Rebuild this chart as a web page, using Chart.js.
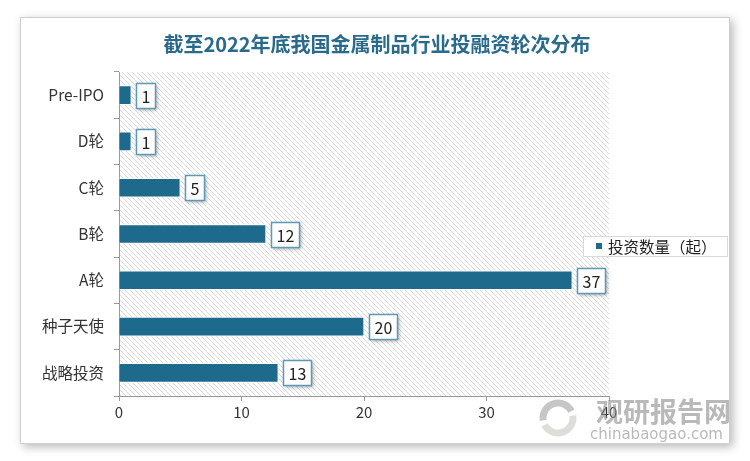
<!DOCTYPE html>
<html><head><meta charset="utf-8">
<script src="https://cdn.jsdelivr.net/npm/chart.js@4"></script>
<style>
html,body{margin:0;padding:0;background:#fff;}
#card{position:absolute;left:20px;top:17px;width:708px;height:425px;border:1px solid #cfcfcf;background:#fff;box-shadow:3px 3px 9px rgba(0,0,0,0.28);}
#wrap{position:absolute;left:0;top:0;width:750px;height:461px;}
</style></head><body>
<div id="card"></div>
<div id="wrap"><canvas id="c" width="750" height="461"></canvas></div>
<script>
const titleText = '截至2022年底我国金属制品行业投融资轮次分布';
const categories = ['Pre-IPO','D轮','C轮','B轮','A轮','种子天使','战略投资'];
const seriesName = '投资数量（起）';
const values = [1,1,5,12,37,20,13];
const xTicks = [0,10,20,30,40];

const BAR = '#1d6a8d';
const FONT = '"Noto Sans CJK SC","Noto Sans",sans-serif';

function hatch(){
  const p=document.createElement('canvas');p.width=5;p.height=5;
  const g=p.getContext('2d');
  g.fillStyle='#ffffff';g.fillRect(0,0,5,5);
  g.strokeStyle='#dadada';g.lineWidth=1;
  g.beginPath();g.moveTo(-1,-1);g.lineTo(6,6);g.moveTo(-1,4);g.lineTo(1,6);g.moveTo(4,-1);g.lineTo(6,1);g.stroke();
  return p;
}

const deco = {
  id:'deco',
  beforeDraw(chart){
    const ctx=chart.ctx, a=chart.chartArea;
    ctx.save();
    ctx.fillStyle=ctx.createPattern(hatch(),'repeat');
    ctx.fillRect(a.left,a.top,a.right-a.left,a.bottom-a.top);
    ctx.restore();
    ctx.save();
    ctx.font='bold 20px "Noto Sans CJK SC",serif';
    ctx.fillStyle='#2a6b8c';
    ctx.textAlign='center';ctx.textBaseline='middle';
    ctx.fillText(titleText,377,44);
    ctx.restore();
  },
  afterDatasetsDraw(chart){
    const ctx=chart.ctx;
    const meta=chart.getDatasetMeta(0);
    ctx.save();
    ctx.font='16px '+FONT;
    meta.data.forEach((bar,i)=>{
      const t=String(values[i]);
      const tw=ctx.measureText(t).width;
      const w=Math.round(tw+10), h=25;
      const x=Math.round(bar.x+5), y=Math.round(bar.y-h/2);
      ctx.save();
      ctx.shadowColor='rgba(0,0,0,0.35)';ctx.shadowBlur=4;ctx.shadowOffsetX=2;ctx.shadowOffsetY=2;
      ctx.fillStyle='#fff';ctx.fillRect(x,y,w,h);
      ctx.restore();
      ctx.strokeStyle='#5d9ab8';ctx.lineWidth=1.5;
      ctx.strokeRect(x+0.5,y+0.5,w,h);
      ctx.fillStyle='#222';ctx.textAlign='center';ctx.textBaseline='middle';
      ctx.fillText(t,x+w/2+0.5,bar.y+1.5);
    });
    // legend
    const lx=583, ly=236, lw=144, lh=20;
    ctx.fillStyle='#fff';ctx.fillRect(lx,ly,lw,lh);
    ctx.strokeStyle='#d9d9d9';ctx.lineWidth=1;ctx.strokeRect(lx+0.5,ly+0.5,lw,lh);
    ctx.fillStyle=BAR;ctx.fillRect(596,243,6,6);
    ctx.fillStyle='#222';ctx.font='15.5px '+FONT;ctx.textAlign='left';ctx.textBaseline='middle';
    ctx.fillText(seriesName,608,247);
    // watermark
    ctx.globalAlpha=0.6;
    ctx.fillStyle='#8a8a8a';
    ctx.font='bold 27px '+FONT;
    ctx.fillText('观研报告网',596,412);
    ctx.font='15px "DejaVu Sans",sans-serif';
    ctx.fillText('chinabaogao.com',590,435);
    ctx.lineWidth=7;ctx.strokeStyle='#a0a0a0';
    ctx.beginPath();ctx.arc(558,418,15,Math.PI*0.95,Math.PI*1.85);ctx.stroke();
    ctx.strokeStyle='#c8c8c0';
    ctx.beginPath();ctx.arc(558,418,15,Math.PI*-0.05,Math.PI*0.85);ctx.stroke();
    ctx.restore();
  }
};

new Chart(document.getElementById('c'),{
  type:'bar',
  data:{labels:categories,datasets:[{label:seriesName,data:values,backgroundColor:BAR,borderColor:'#ffffff',borderWidth:{top:1,right:1,bottom:1,left:0},borderSkipped:'left',barThickness:19}]},
  options:{
    indexAxis:'y',responsive:false,animation:false,devicePixelRatio:1,
    layout:{padding:{left:0,right:141,top:72,bottom:0}},
    plugins:{legend:{display:false},tooltip:{enabled:false},title:{display:false}},
    scales:{
      x:{min:0,max:40,afterBuildTicks(ax){ax.ticks=xTicks.map(v=>({value:v}));},
        afterFit(ax){ax.height=65;},
        grid:{drawOnChartArea:false,drawTicks:true,tickLength:5,color:'#999'},
        border:{color:'#999',width:1},
        ticks:{color:'#333',font:{size:15,family:FONT},padding:2}},
      y:{afterFit(ax){ax.width=119;},
        grid:{drawOnChartArea:false,drawTicks:true,tickLength:5,color:'#999',offset:true},
        border:{color:'#999',width:1},
        ticks:{color:'#333',font:{size:15.5,family:FONT},padding:10}}
    }
  },
  plugins:[deco]
});
</script>
</body></html>
